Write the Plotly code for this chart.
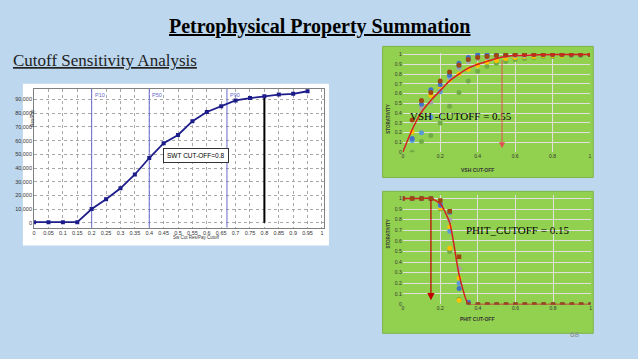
import plotly.graph_objects as go

W, H = 638, 359
def px(x): return x / W
def py(y): return 1 - y / H

# ---------------- Left chart data ----------------
sw_cutoff = [0, 0.05, 0.1, 0.15, 0.2, 0.25, 0.3, 0.35, 0.4, 0.45, 0.5,
             0.55, 0.6, 0.65, 0.7, 0.75, 0.8, 0.85, 0.9, 0.95]
res_pay = [500, 500, 500, 500, 10100, 17300, 25200, 35300, 47300, 58100, 64100,
           74200, 80900, 85000, 89300, 91000, 92400, 93600, 94100, 96000]
left_xticks = [0, 0.05, 0.1, 0.15, 0.2, 0.25, 0.3, 0.35, 0.4, 0.45, 0.5,
               0.55, 0.6, 0.65, 0.7, 0.75, 0.8, 0.85, 0.9, 0.95, 1]
left_xticklabels = ["0", "0.05", "0.1", "0.15", "0.2", "0.25", "0.3", "0.35", "0.4", "0.45", "0.5",
                    "0.55", "0.6", "0.65", "0.7", "0.75", "0.8", "0.85", "0.9", "0.95", "1"]
left_yticks = [0, 10000, 20000, 30000, 40000, 50000, 60000, 70000, 80000, 90000]
left_yticklabels = ["0", "10,000", "20,000", "30,000", "40,000", "50,000",
                    "60,000", "70,000", "80,000", "90,000"]
p_values = [0.2, 0.4, 0.67]
p_labels = ["P10", "P50", "P90"]
swt_cutoff = 0.8
swt_cutoff_value = 92400

# ---------------- VSH chart data ----------------
vsh_x = [0.05, 0.1, 0.15, 0.2, 0.25, 0.3, 0.35, 0.4, 0.45, 0.5,
         0.55, 0.6, 0.65, 0.7, 0.75, 0.8, 0.85, 0.9, 0.95, 1.0]
vsh_brown = [0.33, 0.53, 0.61, 0.73, 0.82, 0.89, 0.95, 0.97, 0.98, 0.99,
             0.995, 1.0, 1.0, 1.0, 1.0, 1.0, 1.0, 1.0, 1.0, 1.0]
vsh_blue = [0.14, 0.49, 0.64, 0.69, 0.79, 0.91, 0.97, 1.0, 1.0, 1.0,
            1.0, 1.0, 1.0, 1.0, 1.0, 1.0, 1.0, 1.0, 1.0, 1.0]
vsh_gray = [0.13, 0.45, 0.51, 0.63, 0.76, 0.86, 0.93, 0.96, 0.97, 0.98,
            0.99, 0.99, 0.99, 1.0, 1.0, 1.0, 1.0, 1.0, 1.0, 1.0]
vsh_yellow = [0.21, 0.45, 0.58, 0.66, 0.74, 0.80, 0.85, 0.89, 0.92, 0.94,
              0.96, 0.97, 0.98, 0.98, 0.99, 0.99, 0.99, 1.0, 1.0, 1.0]
vsh_lightblue = [0.12, 0.20, 0.36, 0.62, 0.78, 0.88, 0.95, 0.98, 0.99, 0.99,
                 1.0, 1.0, 1.0, 1.0, 1.0, 1.0, 1.0, 1.0, 1.0, 1.0]
vsh_green = [0.0, 0.11, 0.17, 0.30, 0.47, 0.61, 0.73, 0.83, 0.88, 0.91,
             0.93, 0.95, 0.96, 0.97, 0.98, 0.98, 0.99, 0.99, 0.99, 1.0]
vsh_fit_x = [0, 0.05, 0.1, 0.15, 0.2, 0.25, 0.3, 0.35, 0.4, 0.45, 0.5,
             0.55, 0.6, 0.7, 0.8, 0.9, 1.0]
vsh_fit_y = [0, 0.23, 0.41, 0.53, 0.63, 0.73, 0.80, 0.86, 0.90, 0.93, 0.96,
             0.98, 0.99, 0.995, 1.0, 1.0, 1.0]
vsh_cutoff_arrow = 0.53
vsh_arrow_top = 0.96

# ---------------- PHIT chart data ----------------
phit_x = [0, 0.05, 0.1, 0.15, 0.2, 0.25, 0.3, 0.35, 0.4, 0.45, 0.5,
          0.55, 0.6, 0.65, 0.7, 0.75, 0.8, 0.85, 0.9, 0.95, 1.0]
phit_brown = [1, 1, 1, 1, 0.98, 0.88, 0.45, 0, 0, 0, 0, 0, 0, 0, 0, 0, 0, 0, 0, 0, 0]
phit_blue = [1, 1, 1, 1, 0.94, 0.87, 0.15, 0.02, 0, 0, 0, 0, 0, 0, 0, 0, 0, 0, 0, 0, 0]
phit_gray = [1, 1, 1, 1, 0.95, 0.80, 0.34, 0, 0, 0, 0, 0, 0, 0, 0, 0, 0, 0, 0, 0, 0]
phit_yellow = [1, 1, 1, 1, 0.91, 0.73, 0.25, 0, 0, 0, 0, 0, 0, 0, 0, 0, 0, 0, 0, 0, 0]
phit_orange = [1, 1, 1, 1, 0.92, 0.53, 0.04, 0, 0, 0, 0, 0, 0, 0, 0, 0, 0, 0, 0, 0, 0]
phit_lightblue = [1, 1, 1, 1, 0.93, 0.69, 0.20, 0, 0, 0, 0, 0, 0, 0, 0, 0, 0, 0, 0, 0, 0]
phit_green = [1, 1, 1, 1, 0.90, 0.50, 0.05, 0, 0, 0, 0, 0, 0, 0, 0, 0, 0, 0, 0, 0, 0]
phit_fit_x = [0, 0.05, 0.1, 0.15, 0.2, 0.25, 0.3, 0.35, 0.4, 0.5, 0.6, 0.7, 0.8, 0.9, 1.0]
phit_fit_y = [1, 1, 1, 1, 0.95, 0.77, 0.28, 0, 0, 0, 0, 0, 0, 0, 0]
phit_cutoff = 0.15

right_yticks = [0, 0.1, 0.2, 0.3, 0.4, 0.5, 0.6, 0.7, 0.8, 0.9, 1]
right_yticklabels = ["0", "0.1", "0.2", "0.3", "0.4", "0.5", "0.6", "0.7", "0.8", "0.9", "1"]
right_xticks = [0, 0.2, 0.4, 0.6, 0.8, 1]
right_xticklabels = ["0", "0.2", "0.4", "0.6", "0.8", "1"]

BG = "#bdd7ee"
GREEN = "#92d050"
NAVY = "#1c1c8a"
PLINE = "#6a6acc"
C_BROWN = "#9e480e"
C_BLUE = "#4472c4"
C_GRAY = "#a5a5a5"
C_YELLOW = "#ffc000"
C_ORANGE = "#ed7d31"
C_LBLUE = "#5b9bd5"
C_GREEN = "#70ad47"
RED = "#d42020"

fig = go.Figure()

# ---- left chart traces ----
for pv in p_values:
    fig.add_trace(go.Scatter(x=[pv, pv], y=[-3600, 97800], mode="lines",
                             line=dict(color=PLINE, width=1), xaxis="x", yaxis="y",
                             hoverinfo="skip", showlegend=False))
fig.add_trace(go.Scatter(x=[swt_cutoff, swt_cutoff], y=[0, swt_cutoff_value], mode="lines",
                         line=dict(color="black", width=2), xaxis="x", yaxis="y",
                         showlegend=False))
fig.add_trace(go.Scatter(x=sw_cutoff, y=res_pay, mode="lines+markers",
                         line=dict(color=NAVY, width=1.8),
                         marker=dict(symbol="square", size=4, color=NAVY),
                         xaxis="x", yaxis="y", showlegend=False))

# ---- VSH chart traces ----
vsh_series = [(vsh_green, C_GREEN), (vsh_yellow, C_YELLOW), (vsh_gray, C_GRAY),
              (vsh_lightblue, C_LBLUE), (vsh_blue, C_BLUE), (vsh_brown, C_BROWN)]
for ys, col in vsh_series:
    fig.add_trace(go.Scatter(x=vsh_x, y=ys, mode="markers",
                             marker=dict(size=5, color=col),
                             xaxis="x2", yaxis="y2", showlegend=False))
fig.add_trace(go.Scatter(x=vsh_fit_x, y=vsh_fit_y, mode="lines",
                         line=dict(color=RED, width=1.5, shape="spline", smoothing=0.8),
                         xaxis="x2", yaxis="y2", showlegend=False))

# ---- PHIT chart traces ----
phit_series = [(phit_green, C_GREEN), (phit_orange, C_YELLOW), (phit_yellow, C_YELLOW),
               (phit_gray, C_GRAY), (phit_lightblue, C_LBLUE), (phit_blue, C_BLUE)]
for ys, col in phit_series:
    fig.add_trace(go.Scatter(x=phit_x, y=ys, mode="markers",
                             marker=dict(size=5, color=col),
                             xaxis="x3", yaxis="y3", showlegend=False))
fig.add_trace(go.Scatter(x=phit_fit_x, y=phit_fit_y, mode="lines",
                         line=dict(color=RED, width=1.5, shape="spline", smoothing=0.6),
                         xaxis="x3", yaxis="y3", showlegend=False))
fig.add_trace(go.Scatter(x=phit_x, y=phit_brown, mode="markers",
                         marker=dict(size=4.5, color=C_BROWN, symbol="square"),
                         xaxis="x3", yaxis="y3", showlegend=False))

tick_small = dict(family="Liberation Sans Narrow, Arial Narrow, Liberation Sans", size=5.5, color="#333333")
tick_bold = dict(family="Liberation Sans", size=5, color="#333333")

fig.update_layout(
    width=W, height=H,
    margin=dict(l=0, r=0, t=0, b=0),
    paper_bgcolor=BG, plot_bgcolor="white",
    showlegend=False,
    xaxis=dict(domain=[px(32.3), px(324.3)], anchor="y", range=[0, 1.008],
               tickvals=left_xticks, ticktext=left_xticklabels, tickfont=tick_small,
               showgrid=True, gridcolor="#a8a8a8", griddash="dot", gridwidth=1,
               showline=True, linecolor="#808080", linewidth=1, mirror=True,
               zeroline=False, ticks="", tickangle=0),
    yaxis=dict(domain=[py(229), py(88)], anchor="x", range=[-3600, 97800],
               tickvals=left_yticks, ticktext=left_yticklabels, tickfont=tick_small,
               showgrid=True, gridcolor="#a8a8a8", griddash="dot", gridwidth=1,
               showline=True, linecolor="#808080", linewidth=1, mirror=True,
               zeroline=False, ticks=""),
    xaxis2=dict(domain=[px(403.3), px(591.7)], anchor="y2", range=[0, 1],
                tickvals=right_xticks, ticktext=right_xticklabels, tickfont=tick_bold,
                showgrid=True, gridcolor="#e0e0e0", gridwidth=1,
                showline=False, zeroline=False, ticks=""),
    yaxis2=dict(domain=[py(152.3), py(51.8)], anchor="x2", range=[0, 1.015],
                tickvals=right_yticks, ticktext=right_yticklabels, tickfont=tick_bold,
                showgrid=True, gridcolor="#e0e0e0", gridwidth=1,
                showline=False, zeroline=False, ticks=""),
    xaxis3=dict(domain=[px(403.3), px(592.3)], anchor="y3", range=[0, 1],
                tickvals=right_xticks, ticktext=right_xticklabels, tickfont=tick_bold,
                showgrid=True, gridcolor="#e0e0e0", gridwidth=1,
                showline=False, zeroline=False, ticks=""),
    yaxis3=dict(domain=[py(306.7), py(196)], anchor="x3", range=[0, 1.03],
                tickvals=right_yticks, ticktext=right_yticklabels, tickfont=tick_bold,
                showgrid=True, gridcolor="#e0e0e0", gridwidth=1,
                showline=False, zeroline=False, ticks=""),
)

shapes = [
    dict(type="rect", xref="paper", yref="paper", x0=px(21), x1=px(329), y0=py(247), y1=py(83),
         fillcolor="white", line=dict(width=0), layer="below"),
    dict(type="rect", xref="paper", yref="paper", x0=px(383), x1=px(595), y0=py(178), y1=py(45),
         fillcolor=GREEN, line=dict(color="#7fb54a", width=1), layer="below"),
    dict(type="rect", xref="paper", yref="paper", x0=px(383), x1=px(595), y0=py(336), y1=py(192),
         fillcolor=GREEN, line=dict(color="#7fb54a", width=1), layer="below"),
]
fig.update_layout(shapes=shapes)

ann = []
ann.append(dict(text="<b><u>Petrophysical Property Summation</u></b>", xref="paper", yref="paper",
                x=px(319), y=py(25), showarrow=False, xanchor="center", yanchor="middle",
                font=dict(family="Liberation Serif", size=20, color="black")))
ann.append(dict(text="<u>Cutoff Sensitivity Analysis</u>", xref="paper", yref="paper",
                x=px(9), y=py(59), showarrow=False, xanchor="left", yanchor="middle",
                font=dict(family="Liberation Serif", size=17, color="#222222")))
ann.append(dict(text="68", xref="paper", yref="paper", x=px(583), y=py(344), showarrow=False,
                font=dict(family="Liberation Sans", size=8, color="#8a8a8a")))
for pv, pl in zip(p_values, p_labels):
    ann.append(dict(text=pl, x=pv, y=1, xref="x", yref="y domain", xanchor="left", yanchor="top",
                    xshift=1, yshift=-1, showarrow=False,
                    font=dict(family="Liberation Sans Narrow, Liberation Sans", size=5.5, color=PLINE)))
ann.append(dict(text="SWT CUT-OFF=0.8", x=0.563, y=49000, xref="x", yref="y", showarrow=False,
                bordercolor="#333333", borderwidth=1, borderpad=3, bgcolor="white",
                font=dict(family="Liberation Sans Narrow, Liberation Sans", size=6.5, color="black")))
ann.append(dict(text="Sw Cut Res/Pay Cutoff", x=px(170), y=py(243), xref="paper", yref="paper",
                showarrow=False, font=dict(family="Liberation Sans Narrow, Liberation Sans", size=4.5, color="#333")))
ann.append(dict(text="Res/Pay", x=px(26), y=py(106), xref="paper", yref="paper", textangle=-90,
                showarrow=False, font=dict(family="Liberation Sans Narrow, Liberation Sans", size=4.5, color="#333")))
ann.append(dict(text="<b>VSH CUT-OFF</b>", x=px(497), y=py(170), xref="paper", yref="paper",
                showarrow=False, font=dict(family="Liberation Sans", size=5, color="#333")))
ann.append(dict(text="<b>PHIT CUT-OFF</b>", x=px(497), y=py(327), xref="paper", yref="paper",
                showarrow=False, font=dict(family="Liberation Sans", size=5, color="#333")))
ann.append(dict(text="<b>STORATIVITY</b>", x=px(389), y=py(102), xref="paper", yref="paper", textangle=-90,
                showarrow=False, font=dict(family="Liberation Sans", size=4.5, color="#333")))
ann.append(dict(text="<b>STORATIVITY</b>", x=px(389), y=py(252), xref="paper", yref="paper", textangle=-90,
                showarrow=False, font=dict(family="Liberation Sans", size=4.5, color="#333")))
ann.append(dict(text="VSH -CUTOFF = 0.55", x=0.03, y=0.37, xref="x2", yref="y2", xanchor="left",
                showarrow=False, font=dict(family="Liberation Serif", size=11, color="black")))
ann.append(dict(text="PHIT_CUTOFF = 0.15", x=0.61, y=0.70, xref="x3", yref="y3", xanchor="center",
                showarrow=False, font=dict(family="Liberation Serif", size=11, color="black")))
ann.append(dict(text="", x=vsh_cutoff_arrow, y=0.04, ax=vsh_cutoff_arrow, ay=vsh_arrow_top,
                xref="x2", yref="y2", axref="x2", ayref="y2", showarrow=True,
                arrowhead=2, arrowsize=1.2, arrowwidth=1, arrowcolor="#e05050"))
ann.append(dict(text="", x=phit_cutoff, y=0.04, ax=phit_cutoff, ay=1.0,
                xref="x3", yref="y3", axref="x3", ayref="y3", showarrow=True,
                arrowhead=2, arrowsize=1.2, arrowwidth=1.2, arrowcolor="#c00000"))
fig.update_layout(annotations=ann)

fig.write_html("out.html", config={"displayModeBar": False},
               post_script="document.body.style.margin='0';document.body.style.padding='0';"
                           "document.documentElement.style.overflow='hidden';")
